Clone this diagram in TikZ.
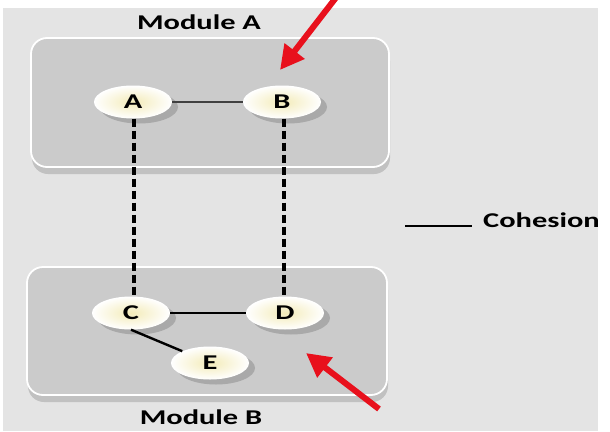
\documentclass[tikz,border=0pt]{standalone}
\usepackage{fontspec}
\usepackage{graphicx}
\setmainfont{Carlito}
\usetikzlibrary{shapes.geometric,shadows,arrows.meta}
\definecolor{bgc}{HTML}{E4E4E4}
\definecolor{boxc}{HTML}{CBCBCB}
\definecolor{redc}{HTML}{E8101C}
\definecolor{nodein}{HTML}{F3EBB8}
\newcommand{\sx}[1]{\scalebox{1.45}[1]{#1}}
\tikzset{
  modbox/.style={draw=white, line width=1.8pt, fill=boxc, rounded corners=16pt,
    drop shadow={shadow xshift=1pt, shadow yshift=-7pt, opacity=0.35}},
  ell/.style={ellipse, minimum width=78pt, minimum height=33pt, inner sep=0pt,
    inner color=nodein, outer color=white,
    drop shadow={shadow xshift=6pt, shadow yshift=-5pt, opacity=0.45},
    font=\fontsize{21}{21}\selectfont\bfseries},
  lab/.style={font=\fontsize{21}{21}\selectfont\bfseries, inner sep=0pt},
  dashedge/.style={line width=3.6pt, dash pattern=on 8pt off 4pt, black},
  solidedge/.style={line width=2.4pt, black},
  redarrow/.style={line width=6pt, redc, -{Triangle[length=24pt,width=24pt]}}
}
\begin{document}
\begin{tikzpicture}[x=1pt,y=-1pt]
\useasboundingbox (0,0) rectangle (610,431);
\fill[white] (0,0) rectangle (610,431);
\fill[bgc] (3,8) rectangle (598,431);
% module boxes
\path[modbox] (31,38) rectangle (389,167);
\path[modbox] (27,267) rectangle (387,395);
% nodes
\node[ell] (A) at (133,102) {\sx{A}};
\node[ell] (B) at (282,102) {\sx{B}};
\node[ell] (C) at (131,313) {\sx{C}};
\node[ell] (D) at (285,313) {\sx{D}};
\node[ell] (E) at (210,363) {\sx{E}};
% edges
\draw[line width=1.6pt, black!75] (A.east) -- (B.west);
\draw[dashedge] (A.south -| 134,0) -- (C.north -| 134,0);
\draw[dashedge] (B.south -| 284,0) -- (D.north -| 284,0);
\draw[solidedge] (C.east) -- (D.west);
\draw[solidedge] (C.south) -- (E.north west);
% labels
\node[lab] (MA) at (199,22) {\sx{Module A}};
\node[lab] (MB) at (201,417) {\sx{Module B}};
\node[lab, anchor=west] (coh) at (483,220) {\sx{Cohesion}};
\coordinate (l1) at (405,226);
\coordinate (l2) at (472,226);
\draw[line width=2.6pt, black] (l1) -- (l2);
% red arrows
\coordinate (r1s) at (338,-5);
\coordinate (r1e) at (280,70);
\coordinate (r2s) at (379,409);
\coordinate (r2e) at (306,353);
\draw[redarrow] (r1s) -- (r1e);
\draw[redarrow] (r2s) -- (r2e);
\end{tikzpicture}
\end{document}
